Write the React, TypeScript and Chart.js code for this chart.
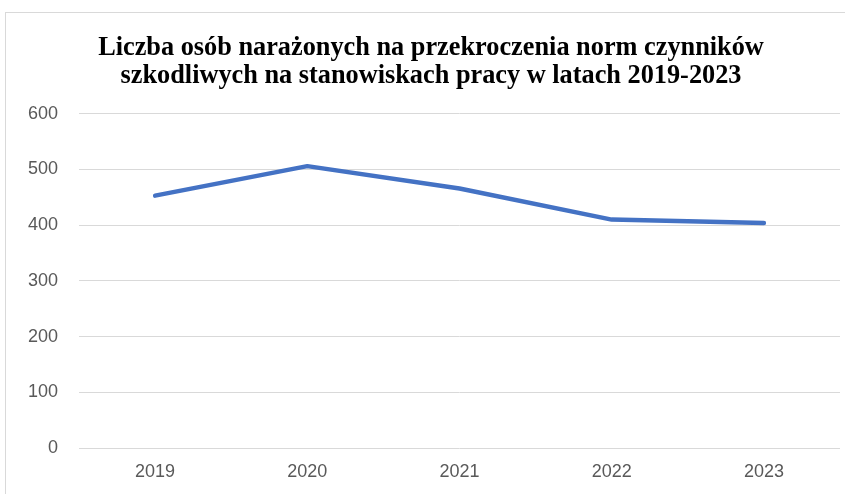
import React, { useEffect, useRef } from "react";
import { Chart, registerables } from "chart.js";

Chart.register(...registerables);

const years: string[] = ["2019", "2020", "2021", "2022", "2023"];
const persons: number[] = [453, 506, 466, 410, 404];
const titleLines: string[] = [
  "Liczba osób narażonych na przekroczenia norm czynników",
  "szkodliwych na stanowiskach pracy w latach 2019-2023",
];
const yMin = 0;
const yMax = 600;
const yStep = 100;

export default function App() {
  const ref = useRef<HTMLCanvasElement | null>(null);

  useEffect(() => {
    if (!ref.current) return;
    const chart = new Chart(ref.current, {
      type: "line",
      data: {
        labels: years,
        datasets: [
          {
            data: persons,
            borderColor: "#4472C4",
            backgroundColor: "#4472C4",
            borderWidth: 4.5,
            pointRadius: 0,
            tension: 0,
            borderCapStyle: "round",
            borderJoinStyle: "round",
          },
        ],
      },
      options: {
        animation: false,
        responsive: false,
        maintainAspectRatio: false,
        layout: { padding: { left: 22, right: 5, top: 0, bottom: 0 } },
        plugins: {
          legend: { display: false },
          tooltip: { enabled: false },
          title: {
            display: true,
            text: titleLines,
            color: "#000000",
            font: { family: "Liberation Serif", size: 26.3, weight: "bold", lineHeight: 1.07 },
            padding: { top: 34, bottom: 23.5 },
          },
        },
        scales: {
          x: {
            offset: true,
            grid: { display: false, drawTicks: false },
            border: { display: false },
            ticks: {
              color: "#595959",
              font: { family: "Liberation Sans", size: 18 },
              padding: 13,
              maxRotation: 0,
            },
            afterFit: (scale: any) => {
              scale.height = 46;
            },
          },
          y: {
            min: yMin,
            max: yMax,
            grid: { color: "#d9d9d9", lineWidth: 1, drawTicks: false },
            border: { display: false },
            ticks: {
              stepSize: yStep,
              color: "#595959",
              font: { family: "Liberation Sans", size: 18 },
              padding: 21,
            },
            afterFit: (scale: any) => {
              scale.width = 57;
            },
          },
        },
      },
    });
    return () => chart.destroy();
  }, []);

  return (
    <div style={{ position: "fixed", left: 0, top: 0, width: 845, height: 494, background: "#fff" }}>
      <div
        style={{
          position: "absolute",
          left: 5,
          top: 12,
          width: 845,
          height: 494,
          border: "1px solid #d9d9d9",
          boxSizing: "border-box",
        }}
      />
      <canvas ref={ref} width={845} height={494} style={{ position: "absolute", left: 0, top: 0 }} />
    </div>
  );
}
